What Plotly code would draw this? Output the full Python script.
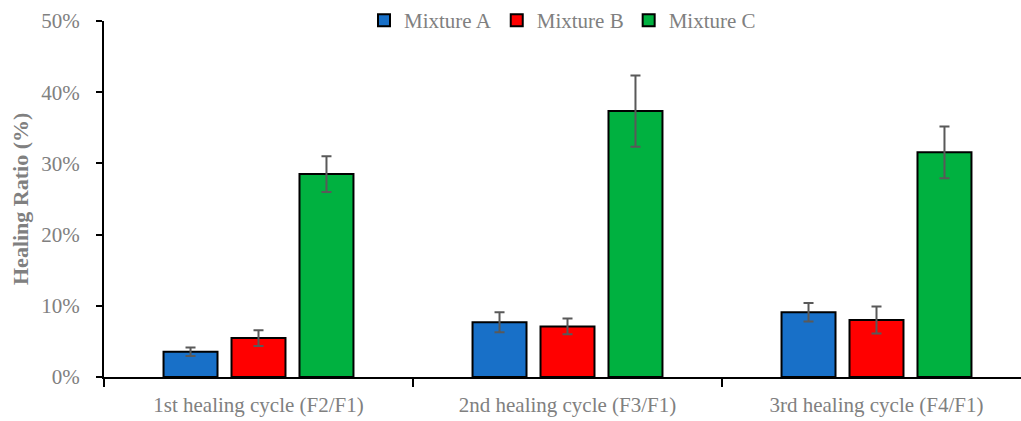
import plotly.graph_objects as go

categories = ["1st healing cycle (F2/F1)", "2nd healing cycle (F3/F1)", "3rd healing cycle (F4/F1)"]
series_names = ["Mixture A", "Mixture B", "Mixture C"]
mixture_a = [0.0355, 0.077, 0.091]
mixture_b = [0.0546, 0.071, 0.080]
mixture_c = [0.285, 0.3735, 0.3155]
err_a = [0.006, 0.014, 0.013]
err_b = [0.011, 0.011, 0.019]
err_c = [0.025, 0.050, 0.0365]
colors = ["#1870C8", "#FF0000", "#00B140"]

values = [mixture_a, mixture_b, mixture_c]
errors = [err_a, err_b, err_c]

FONT = "Liberation Serif"
GRAY = "#808080"
FS = 21

fig = go.Figure()
for name, vals, errs, col in zip(series_names, values, errors, colors):
    fig.add_trace(go.Bar(
        x=categories, y=vals, name=name,
        marker=dict(color=col, line=dict(color="black", width=2)),
        error_y=dict(type="data", array=errs, visible=True,
                     color="#595959", thickness=2, width=5),
    ))

fig.update_layout(
    width=1021, height=421,
    margin=dict(l=104, r=0, t=20, b=44),
    paper_bgcolor="white", plot_bgcolor="white",
    barmode="group", bargap=0.34, bargroupgap=0.206,
    font=dict(family=FONT, size=FS, color=GRAY),
    legend=dict(orientation="h", x=0.5, xanchor="center", y=1.0, yanchor="middle",
                font=dict(family=FONT, size=FS, color=GRAY),
                bgcolor="rgba(255,255,255,0)", itemwidth=30, tracegroupgap=0),
    showlegend=True,
)
fig.update_xaxes(
    type="category",
    range=[-0.5, -0.5 + 3 * 917 / 927],
    showline=True, linecolor="black", linewidth=2,
    ticks="outside", tickson="boundaries", ticklen=8, tickcolor="black", tickwidth=2,
    ticklabelstandoff=8,
    tickfont=dict(family=FONT, size=FS, color=GRAY),
    showgrid=False, zeroline=False,
)
fig.update_yaxes(
    range=[0, 0.5], dtick=0.1, tickformat=".0%",
    showline=True, linecolor="black", linewidth=2,
    ticks="outside", ticklen=6, tickcolor="black", tickwidth=2,
    ticklabelstandoff=12,
    tickfont=dict(family=FONT, size=FS, color=GRAY),
    showgrid=False, zeroline=False,
)
fig.add_annotation(
    text="<b>Healing Ratio (%)</b>", textangle=-90,
    xref="paper", yref="paper", x=(20 - 104) / 917, y=0.5,
    xanchor="center", yanchor="middle", showarrow=False,
    font=dict(family=FONT, size=22, color=GRAY),
)

fig.write_html("out.html")
